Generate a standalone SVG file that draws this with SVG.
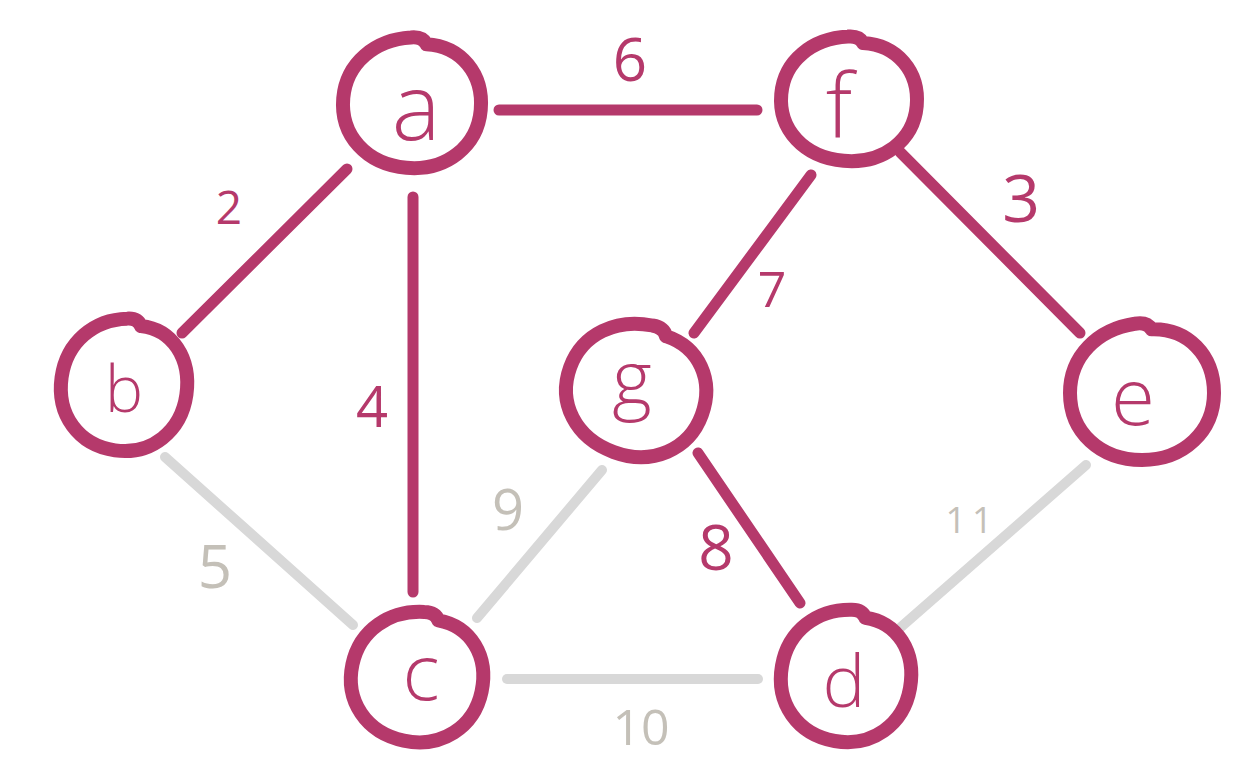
<svg xmlns="http://www.w3.org/2000/svg" xmlns:xlink="http://www.w3.org/1999/xlink" width="1253" height="783" viewBox="0 0 1253 783">
<style>
.ring{fill:none;stroke:#b5396b;stroke-width:14;stroke-linecap:round;stroke-linejoin:round}
.e-on{stroke:#b5396b;stroke-width:11;stroke-linecap:round;fill:none}
.e-off{stroke:#d8d8d8;stroke-width:10;stroke-linecap:round;fill:none}
.nl{font-family:"Open Sans","Liberation Sans",sans-serif;font-weight:300;fill:#b5396b;text-anchor:middle}
.lb{font-family:"Open Sans","Liberation Sans",sans-serif;font-weight:400;text-anchor:middle}
.lb-on{fill:#b5396b}
.lb-off{fill:#c4c0b8}
</style>
<defs>
<path id="ring" d="M 8,-57 C 38,-58 60,-34 60,0 C 60,34 35,60 0,60 C -35,60 -60,35 -60,0 C -60,-33 -37,-57 -6,-62 Q 4,-64 8,-57" vector-effect="non-scaling-stroke"/>
</defs>
<rect width="1253" height="783" fill="#ffffff"/>
<g id="edges">
<line class="e-off" x1="165" y1="457" x2="353" y2="625"/>
<line class="e-off" x1="477" y1="618" x2="602" y2="470"/>
<line class="e-off" x1="507" y1="679" x2="758" y2="679"/>
<line class="e-off" x1="901" y1="627" x2="1086" y2="465"/>
<line class="e-on" x1="499" y1="110" x2="757" y2="110"/>
<line class="e-on" x1="347" y1="169" x2="182" y2="333"/>
<line class="e-on" x1="413" y1="197" x2="413" y2="592"/>
<line class="e-on" x1="811" y1="175" x2="694" y2="333"/>
<line class="e-on" x1="900" y1="152" x2="1080" y2="333"/>
<line class="e-on" x1="698" y1="453" x2="800" y2="603"/>
<text class="lb lb-on" x="630" y="81" font-size="60">6</text>
<text class="lb lb-on" x="229" y="224" font-size="46">2</text>
<text class="lb lb-on" x="372" y="427" font-size="56">4</text>
<text class="lb lb-on" x="1021" y="222" font-size="66">3</text>
<text class="lb lb-on" x="772" y="307" font-size="50">7</text>
<text class="lb lb-on" x="716" y="570" font-size="62">8</text>
<text class="lb lb-off" x="215" y="588" font-size="60">5</text>
<text class="lb lb-off" x="508" y="530" font-size="56">9</text>
<text class="lb lb-off" x="641" y="745" font-size="50">10</text>
<text class="lb lb-off" x="972" y="533" font-size="36" letter-spacing="6">11</text>
</g>
<g id="node-a">
<use href="#ring" class="ring" transform="translate(412,104) rotate(5) scale(1.15,1.067)"/>
<text class="nl" x="416" y="140" font-size="92">a</text>
</g>
<g id="node-f">
<use href="#ring" class="ring" transform="translate(849,100) rotate(5) scale(1.133,1.017)"/>
<text class="nl" x="839" y="137" font-size="88">f</text>
</g>
<g id="node-b">
<use href="#ring" class="ring" transform="translate(124,386) rotate(8) scale(1.05,1.083)"/>
<text class="nl" x="124" y="412" font-size="64">b</text>
</g>
<g id="node-g">
<use href="#ring" class="ring" transform="translate(636,391) rotate(20) scale(1.167,1.083)"/>
<text class="nl" x="632" y="405" font-size="76">g</text>
</g>
<g id="node-e">
<use href="#ring" class="ring" transform="translate(1142,393) scale(1.2,1.117)"/>
<text class="nl" x="1133" y="425" font-size="80">e</text>
</g>
<g id="node-c">
<use href="#ring" class="ring" transform="translate(417,678) rotate(12) scale(1.1,1.067)"/>
<text class="nl" x="421" y="700" font-size="78">c</text>
</g>
<g id="node-d">
<use href="#ring" class="ring" transform="translate(846,677) rotate(10) scale(1.083,1.083)"/>
<text class="nl" x="844" y="707" font-size="72">d</text>
</g>
</svg>
